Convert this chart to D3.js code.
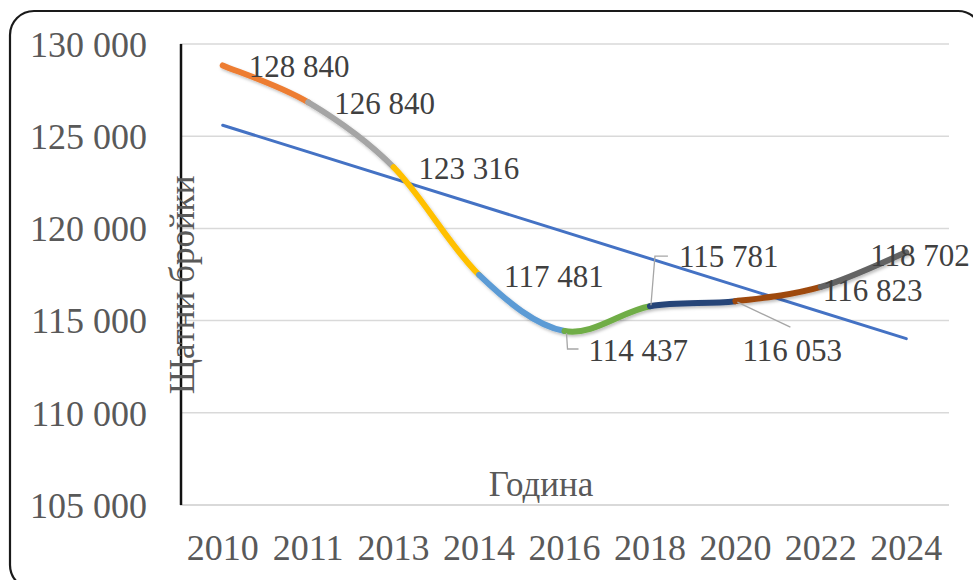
<!DOCTYPE html>
<html>
<head>
<meta charset="utf-8">
<script src="https://cdn.jsdelivr.net/npm/d3@7"></script>
<style>
html,body{margin:0;padding:0;background:#fff;}
svg{display:block;}
text{font-family:"Liberation Serif","Times New Roman",serif;}
</style>
</head>
<body>
<svg id="chart" width="973" height="580"></svg>
<script>
// ---- data ----
const categories = ["2010","2011","2013","2014","2016","2018","2020","2022","2024"];
const values = [128840,126840,123316,117481,114437,115781,116053,116823,118702];
const yTicks = [105000,110000,115000,120000,125000,130000];
const segmentColors = ["#ED7D31","#A5A5A5","#FFC000","#5B9BD5","#70AD47","#264478","#9E480E","#636363"];
const yTitle = "Щатни бройки";
const xTitle = "Година";

// ---- layout ----
const plot = {left:180, right:949, top:44, bottom:505};
const svg = d3.select("#chart");

const x = d3.scaleBand().domain(categories).range([plot.left, plot.right]).padding(0);
const y = d3.scaleLinear().domain([105000,130000]).range([plot.bottom, plot.top]);
const cx = c => x(c) + x.bandwidth()/2;
const fmt = v => d3.format(",")(v).replace(/,/g," ");

// shadow filter
const defs = svg.append("defs");
const f = defs.append("filter").attr("id","sh").attr("x","-10%").attr("y","-50%").attr("width","120%").attr("height","200%");
f.append("feDropShadow").attr("dx",1.5).attr("dy",2).attr("stdDeviation",1.5).attr("flood-color","#000").attr("flood-opacity",0.25);

// outer rounded border
svg.append("rect").attr("x",10).attr("y",11).attr("width",972).attr("height",578)
  .attr("rx",24).attr("fill","#fff").attr("stroke","#1a1a1a").attr("stroke-width",2.2);

// gridlines
svg.append("g").selectAll("line").data(yTicks.filter(t=>t!==105000)).join("line")
  .attr("x1",plot.left).attr("x2",plot.right)
  .attr("y1",d=>y(d)).attr("y2",d=>y(d))
  .attr("stroke","#d9d9d9").attr("stroke-width",1.5);
// bottom axis line
svg.append("line").attr("x1",plot.left).attr("x2",plot.right)
  .attr("y1",y(105000)).attr("y2",y(105000))
  .attr("stroke","#d9d9d9").attr("stroke-width",2.2);

// y tick labels
const yAxis = d3.axisLeft(y).tickValues(yTicks).tickFormat(fmt).tickSize(0).tickPadding(0);
const gy = svg.append("g").attr("transform",`translate(147,0)`).call(yAxis);
gy.select(".domain").remove();
gy.attr("font-family",null);
gy.selectAll("text").attr("font-size",36).attr("fill","#595959").attr("dy","0.34em");

// x tick labels
const xAxis = d3.axisBottom(x).tickSize(0).tickPadding(0);
const gx = svg.append("g").attr("transform",`translate(0,${560})`).call(xAxis);
gx.select(".domain").remove();
gx.attr("font-family",null);
gx.selectAll("text").attr("font-size",36).attr("fill","#595959").attr("dy",0).attr("y",0);

// y axis line (black)
svg.append("line").attr("x1",181).attr("x2",181).attr("y1",plot.top).attr("y2",plot.bottom)
  .attr("stroke","#111").attr("stroke-width",2.5);

// axis titles
svg.append("text").attr("transform",`translate(194,285) rotate(-90)`)
  .attr("text-anchor","middle").attr("font-size",35).attr("fill","#595959").text(yTitle);
svg.append("text").attr("x",541).attr("y",496).attr("text-anchor","middle")
  .attr("font-size",35).attr("fill","#595959").text(xTitle);

// trend line (least squares)
const n = values.length;
const xs = d3.range(1,n+1);
const mx = d3.mean(xs), my = d3.mean(values);
const slope = d3.sum(xs,(xi,i)=>(xi-mx)*(values[i]-my)) / d3.sum(xs,xi=>(xi-mx)*(xi-mx));
const icpt = my - slope*mx;
const trend = categories.map((c,i)=>[cx(c), y(icpt + slope*(i+1))]);
svg.append("path").attr("d",d3.line()([trend[0],trend[n-1]]))
  .attr("fill","none").attr("stroke","#4472C4").attr("stroke-width",3).attr("stroke-linecap","round");

// smoothed coloured segments
const pts = categories.map((c,i)=>[cx(c), y(values[i])]);
const gLine = svg.append("g").attr("filter","url(#sh)");
for(let i=0;i<n-1;i++){
  const p0 = pts[Math.max(i-1,0)], p1 = pts[i], p2 = pts[i+1], p3 = pts[Math.min(i+2,n-1)];
  const c1 = [p1[0]+(p2[0]-p0[0])/6, p1[1]+(p2[1]-p0[1])/6];
  const c2 = [p2[0]-(p3[0]-p1[0])/6, p2[1]-(p3[1]-p1[1])/6];
  const path = d3.path();
  path.moveTo(p1[0],p1[1]);
  path.bezierCurveTo(c1[0],c1[1],c2[0],c2[1],p2[0],p2[1]);
  gLine.append("path").attr("d",path.toString()).attr("fill","none")
    .attr("stroke",segmentColors[i]).attr("stroke-width",6).attr("stroke-linecap","round");
}

// data labels (offset placement relative to each point)
const labelOffsets = [[26,1],[26,1],[25,1],[25,2],[24,19],[29,-50],[7,49],[2,3],[-36,3]];
// leader lines for moved labels (relative to point)
const leaders = {
  4: [[2,2],[3,18],[14,18]],
  5: [[1,-1],[5,-50],[18,-50]],
  6: [[2,1],[55,26]]
};
Object.entries(leaders).forEach(([i,l])=>{
  const p = pts[+i];
  svg.append("path").attr("d",d3.line()(l.map(d=>[p[0]+d[0],p[1]+d[1]])))
    .attr("fill","none").attr("stroke","#a6a6a6").attr("stroke-width",1.3);
});
svg.append("g").selectAll("text").data(values).join("text")
  .attr("x",(d,i)=>pts[i][0]+labelOffsets[i][0])
  .attr("y",(d,i)=>pts[i][1]+labelOffsets[i][1])
  .attr("dy","0.34em").attr("font-size",31).attr("fill","#404040")
  .text(d=>fmt(d));
</script>
</body>
</html>
